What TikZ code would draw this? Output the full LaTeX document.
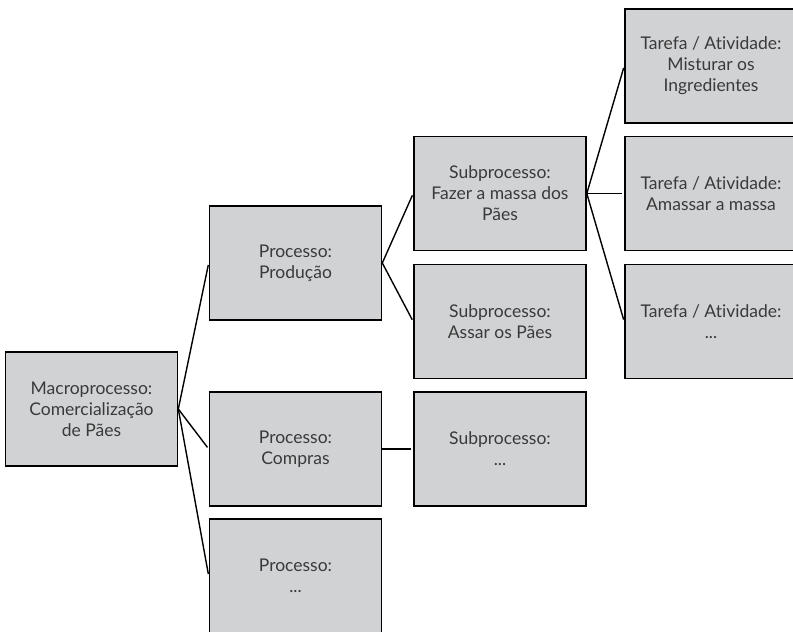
\documentclass[tikz,border=0pt]{standalone}
\usepackage{fontspec}
\setmainfont{Lato}[Ligatures={NoCommon}]
\definecolor{boxfill}{HTML}{D1D2D4}
\definecolor{boxtext}{HTML}{3A3A3A}
\begin{document}
\begin{tikzpicture}[x=1pt, y=-1pt,
        stage/.style={draw=black, line width=1.6pt, fill=boxfill, text=boxtext,
            minimum width=172pt, minimum height=114pt, align=center,
            font=\fontsize{17.5}{21}\selectfont},
        link/.style={line width=1.4pt, shorten >=2pt}]
            \useasboundingbox (0, 0) rectangle (793, 632);
            \clip (0, 0) rectangle (793, 632);

            % level 1
            \node[stage] (macro) at (91.5, 409) {Macroprocesso:\\Comercialização\\de Pães};

            % level 2
            \node[stage] (prod) at (295.5, 263) {Processo:\\Produção};
            \node[stage] (comp) at (295.5, 449) {Processo:\\Compras};
            \node[stage] (pout) at (295.5, 576) {Processo:\\...};

            % level 3
            \node[stage] (sfaz) at (500, 193.5) {Subprocesso:\\Fazer a massa dos\\Pães};
            \node[stage] (sass) at (500, 321.5) {Subprocesso:\\Assar os Pães};
            \node[stage] (sout) at (500, 449) {Subprocesso:\\...};

            % level 4
            \node[stage] (tmis) at (711, 66) {Tarefa / Atividade:\\Misturar os\\Ingredientes};
            \node[stage] (tama) at (711, 193.5) {Tarefa / Atividade:\\Amassar a massa};
            \node[stage] (tout) at (711, 321.5) {Tarefa / Atividade:\\...};

            \draw[link] (macro.east) -- (prod.west);
            \draw[link] (macro.east) -- (comp.west);
            \draw[link] (macro.east) -- (pout.west);
            \draw[link] (prod.east) -- (sfaz.west);
            \draw[link] (prod.east) -- (sass.west);
            \draw[link] (comp.east) -- (sout.west);
            \draw[link] (sfaz.east) -- (tmis.west);
            \draw[link] (sfaz.east) -- (tama.west);
            \draw[link] (sfaz.east) -- (tout.west);
        \end{tikzpicture}
\end{document}
